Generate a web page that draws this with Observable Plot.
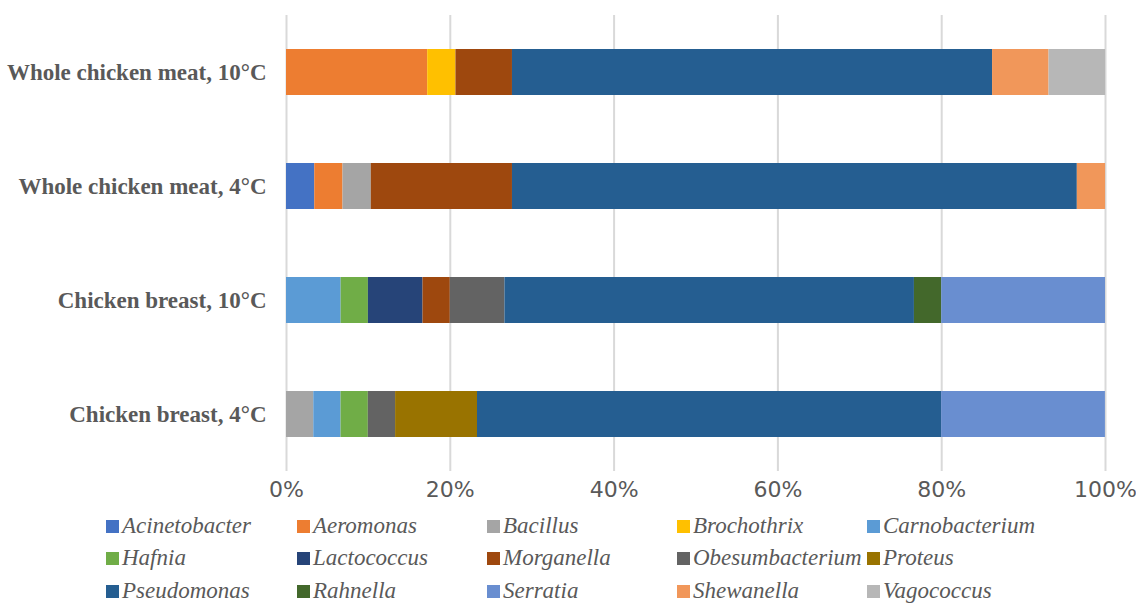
<!DOCTYPE html>
<html>
<head>
<meta charset="utf-8">
<script src="https://cdn.jsdelivr.net/npm/d3@7"></script>
<script src="https://cdn.jsdelivr.net/npm/@observablehq/plot@0.6"></script>
<style>
  html, body { margin: 0; padding: 0; background: #fff; }
  #chart { width: 1136px; height: 510px; }
  #legend {
    position: relative; width: 1136px; height: 95px;
    font-family: 'Liberation Serif', 'Times New Roman', serif; font-style: italic;
    font-size: 23px; color: #595959;
  }
  .item { position: absolute; display: flex; align-items: center; white-space: nowrap; line-height: 26px; }
  .sw { width: 13px; height: 13px; margin-right: 3px; }
</style>
</head>
<body>
<div id="chart"></div>
<div id="legend"></div>
<script>
// Categories, top to bottom
const categories = [
  "Whole chicken meat, 10°C",
  "Whole chicken meat, 4°C",
  "Chicken breast, 10°C",
  "Chicken breast, 4°C"
];
// Genera in legend / stacking order
const genera = [
  "Acinetobacter", "Aeromonas", "Bacillus", "Brochothrix", "Carnobacterium",
  "Hafnia", "Lactococcus", "Morganella", "Obesumbacterium", "Proteus",
  "Pseudomonas", "Rahnella", "Serratia", "Shewanella", "Vagococcus"
];
const colors = [
  "#4472C4", "#ED7D31", "#A5A5A5", "#FFC000", "#5B9BD5",
  "#70AD47", "#264478", "#9E480E", "#636363", "#997300",
  "#255E91", "#43682B", "#698ED0", "#F1975A", "#B7B7B7"
];
// Relative abundance (%) per genus, in genera order
const wholeMeat10 = [0, 17.24, 0, 3.45, 0, 0, 0, 6.90, 0, 0, 58.62, 0, 0, 6.90, 6.90];
const wholeMeat4  = [3.45, 3.45, 3.45, 0, 0, 0, 0, 17.24, 0, 0, 68.97, 0, 0, 3.45, 0];
const breast10    = [0, 0, 0, 0, 6.67, 3.33, 6.67, 3.33, 6.67, 0, 50.00, 3.33, 20.00, 0, 0];
const breast4     = [0, 0, 3.33, 0, 3.33, 3.33, 0, 0, 3.33, 10.00, 56.67, 0, 20.00, 0, 0];
const xTicks = [0, 20, 40, 60, 80, 100];

const series = [wholeMeat10, wholeMeat4, breast10, breast4];
const rows = [];
categories.forEach((c, i) => {
  genera.forEach((g, j) => {
    if (series[i][j] > 0) rows.push({category: c, genus: g, value: series[i][j]});
  });
});

const chart = Plot.plot({
  width: 1136,
  height: 510,
  marginLeft: 286,
  marginRight: 31,
  marginTop: 15,
  marginBottom: 39,
  style: {background: "#fff"},
  x: {domain: [0, 100], ticks: xTicks, tickFormat: d => d + "%", label: null},
  y: {domain: categories, paddingInner: 0.6, paddingOuter: 0.3, label: null},
  color: {domain: genera, range: colors},
  marks: [
    Plot.gridX(xTicks, {stroke: "#d9d9d9", strokeOpacity: 1, strokeWidth: 2}),
    Plot.barX(rows, {y: "category", x: "value", fill: "genus", order: genera}),
    Plot.axisX(xTicks, {tickSize: 0, tickPadding: 10, fontSize: 22, fill: "#595959",
      fontFamily: "DejaVu Sans, sans-serif", tickFormat: d => d + "%", label: null}),
    Plot.axisY({tickSize: 0, tickPadding: 20, fontSize: 23, fill: "#595959",
      fontWeight: "bold", fontFamily: "Liberation Serif, Times New Roman, serif", label: null})
  ]
});
document.getElementById("chart").appendChild(chart);

// Legend: 5 columns x 3 rows
const legend = document.getElementById("legend");
const colX = [106, 297, 487, 677, 867];
const rowY = [3, 35, 68];
genera.forEach((g, i) => {
  const d = document.createElement("div");
  d.className = "item";
  d.style.left = colX[i % 5] + "px";
  d.style.top = rowY[Math.floor(i / 5)] + "px";
  const sw = document.createElement("span");
  sw.className = "sw";
  sw.style.background = colors[i];
  const t = document.createElement("span");
  t.textContent = g;
  d.appendChild(sw); d.appendChild(t);
  legend.appendChild(d);
});
</script>
</body>
</html>
